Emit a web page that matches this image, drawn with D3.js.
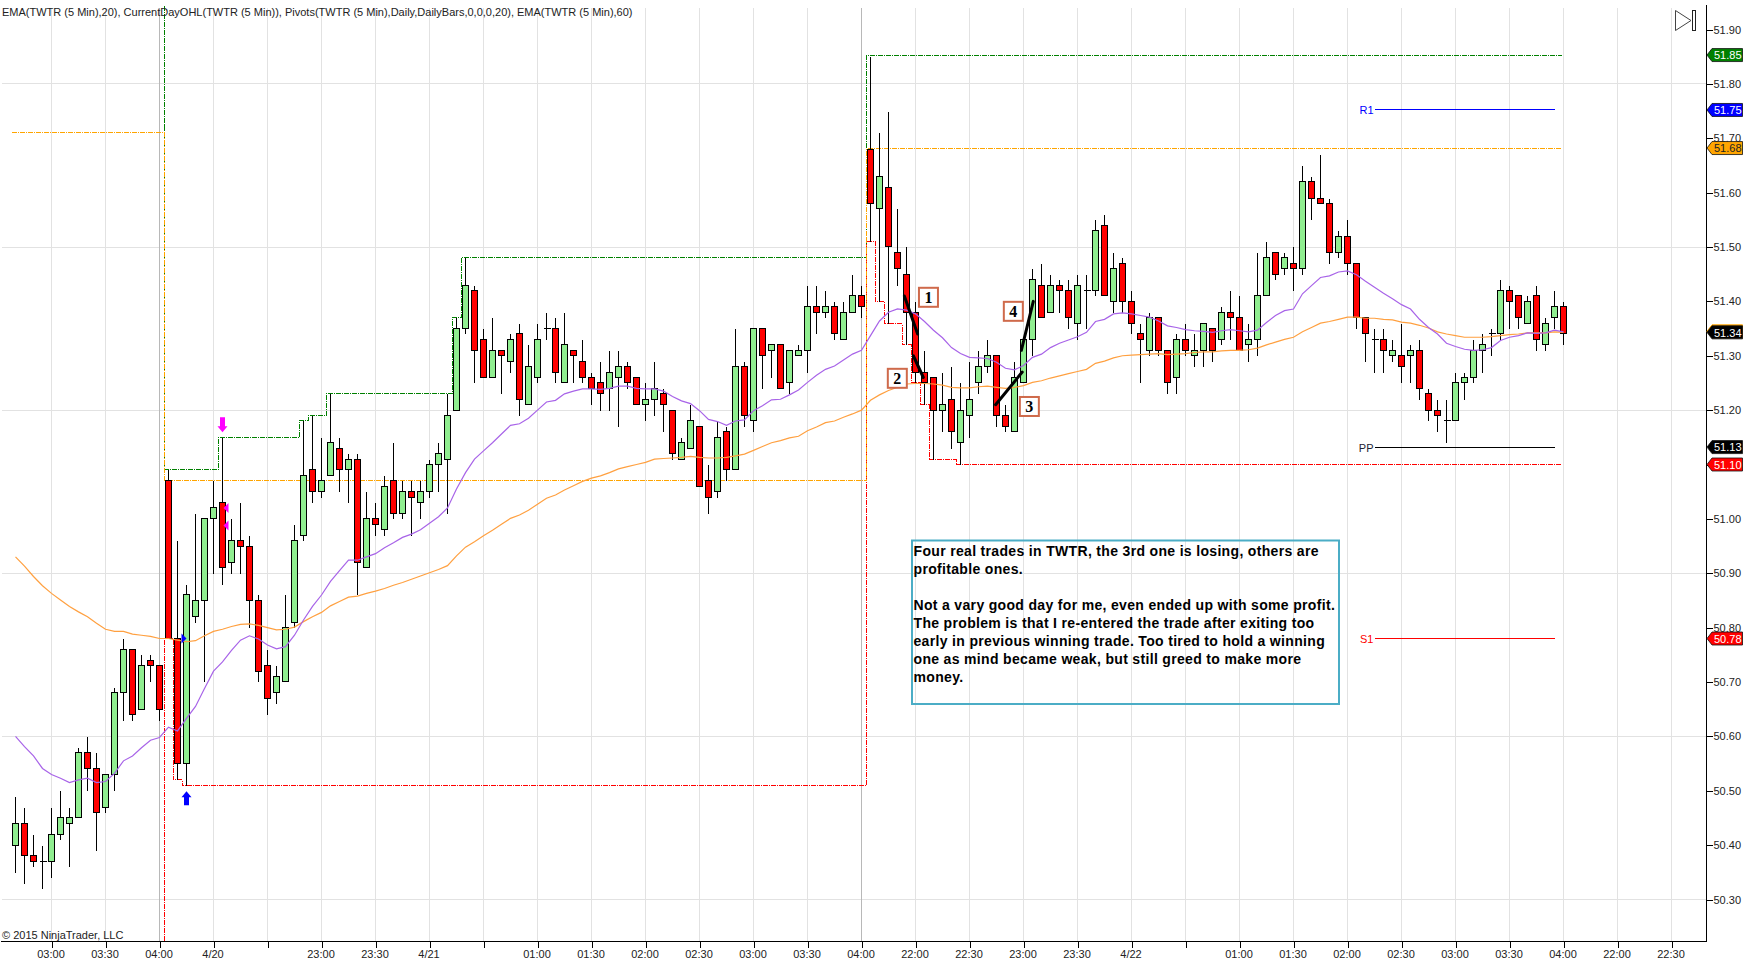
<!DOCTYPE html>
<html>
<head>
<meta charset="utf-8">
<script src="https://cdn.jsdelivr.net/npm/d3@7/dist/d3.min.js"></script>
<style>
  html, body { margin: 0; padding: 0; background: #fff; }
  svg { display: block; }
  text { font-family: "Liberation Sans", Arial, sans-serif; }
</style>
</head>
<body>
<svg id="chart" width="1752" height="968"></svg>
<script>
// one row per bar, left to right: open, high, low, close
const opens = [
  50.40,50.44,50.38,50.37,50.37,50.42,50.44,50.45,50.57,50.54,50.47,50.53,50.68,50.76,50.65,50.74,50.73,51.07,50.78,50.55,
  50.82,50.85,51.00,51.03,50.92,50.96,50.95,50.85,50.73,50.68,50.70,50.81,50.97,51.09,51.05,51.08,51.13,51.09,51.11,50.91,
  51.00,50.98,51.07,51.01,51.05,51.03,51.05,51.10,51.11,51.20,51.35,51.42,51.33,51.26,51.31,51.29,51.34,51.21,51.26,51.35,
  51.35,51.25,51.31,51.29,51.26,51.25,51.24,51.26,51.28,51.26,51.21,51.22,51.23,51.20,51.11,51.13,51.17,51.07,51.05,51.16,
  51.09,51.28,51.18,51.35,51.31,51.32,51.25,51.30,51.31,51.39,51.38,51.39,51.33,51.38,51.41,51.68,51.57,51.61,51.49,51.45,
  51.38,51.27,51.26,51.20,51.22,51.14,51.19,51.25,51.28,51.30,51.19,51.16,51.25,51.33,51.43,51.38,51.43,51.42,51.36,51.42,
  51.42,51.54,51.40,51.47,51.40,51.34,51.31,51.37,51.31,51.26,51.33,51.30,51.31,51.35,51.33,51.38,51.37,51.32,51.33,51.41,
  51.49,51.46,51.47,51.46,51.62,51.59,51.58,51.49,51.52,51.47,51.37,51.33,51.33,51.30,51.30,51.30,51.31,51.23,51.20,51.18,
  51.18,51.25,51.26,51.31,51.34,51.34,51.42,51.41,51.36,51.41,51.32,51.37,51.39
];
const highs = [
  50.49,50.47,50.42,50.40,50.47,50.50,50.47,50.58,50.60,50.57,50.53,50.69,50.78,50.76,50.75,50.75,50.73,51.09,50.96,50.88,
  51.01,51.00,51.07,51.15,51.00,51.03,50.97,50.86,50.76,50.73,50.86,50.99,51.18,51.19,51.15,51.23,51.15,51.12,51.12,51.05,
  51.03,51.08,51.14,51.07,51.07,51.07,51.11,51.14,51.23,51.37,51.48,51.43,51.35,51.37,51.31,51.34,51.36,51.32,51.36,51.38,
  51.37,51.38,51.31,51.33,51.27,51.29,51.31,51.31,51.29,51.26,51.25,51.29,51.24,51.20,51.15,51.21,51.17,51.10,51.18,51.17,
  51.35,51.29,51.35,51.35,51.32,51.32,51.31,51.32,51.43,51.43,51.42,51.40,51.40,51.45,51.43,51.85,51.71,51.75,51.57,51.50,
  51.40,51.31,51.26,51.27,51.28,51.25,51.29,51.31,51.33,51.30,51.21,51.29,51.33,51.46,51.47,51.45,51.44,51.44,51.45,51.45,
  51.55,51.56,51.49,51.48,51.42,51.36,51.38,51.37,51.31,51.34,51.36,51.34,51.36,51.35,51.39,51.42,51.41,51.36,51.49,51.51,
  51.49,51.49,51.50,51.65,51.63,51.67,51.59,51.53,51.55,51.47,51.37,51.35,51.35,51.33,51.36,51.32,51.33,51.24,51.22,51.22,
  51.27,51.27,51.33,51.34,51.35,51.44,51.43,51.41,51.41,51.43,51.37,51.42,51.40
];
const lows = [
  50.35,50.33,50.36,50.32,50.34,50.41,50.36,50.45,50.50,50.39,50.46,50.50,50.63,50.63,50.65,50.70,50.63,50.78,50.52,50.51,
  50.81,50.70,50.90,50.88,50.90,50.90,50.80,50.70,50.64,50.66,50.70,50.80,50.96,51.03,51.04,51.08,51.05,51.03,50.86,50.91,
  50.97,50.97,51.00,51.00,50.97,51.00,51.04,51.05,51.01,51.20,51.34,51.25,51.26,51.26,51.23,51.27,51.19,51.21,51.25,51.33,
  51.25,51.25,51.25,51.25,51.21,51.20,51.20,51.17,51.24,51.21,51.18,51.19,51.16,51.11,51.11,51.13,51.06,51.01,51.04,51.07,
  51.09,51.17,51.16,51.24,51.26,51.24,51.23,51.30,51.27,51.34,51.37,51.33,51.33,51.38,51.37,51.51,51.40,51.36,51.43,51.32,
  51.25,51.21,51.11,51.16,51.13,51.10,51.15,51.23,51.27,51.17,51.16,51.16,51.25,51.30,51.37,51.38,51.38,51.35,51.33,51.35,
  51.41,51.41,51.38,51.38,51.34,51.25,51.30,51.30,51.23,51.23,51.30,51.28,51.28,51.29,51.32,51.33,51.31,51.29,51.30,51.41,
  51.44,51.45,51.42,51.45,51.55,51.58,51.47,51.48,51.45,51.35,51.29,51.27,51.27,51.29,51.25,51.25,51.22,51.18,51.16,51.14,
  51.18,51.22,51.25,51.27,51.30,51.33,51.35,51.35,51.36,51.31,51.31,51.35,51.32
];
const closes = [
  50.44,50.38,50.37,50.37,50.42,50.45,50.45,50.57,50.54,50.46,50.53,50.68,50.76,50.64,50.73,50.73,50.65,50.78,50.55,50.86,
  50.85,51.00,51.02,50.91,50.96,50.95,50.85,50.72,50.67,50.71,50.80,50.96,51.08,51.05,51.07,51.14,51.09,51.11,50.92,51.00,
  50.99,51.06,51.01,51.05,51.04,51.05,51.10,51.12,51.19,51.35,51.43,51.31,51.26,51.31,51.30,51.33,51.22,51.28,51.33,51.35,
  51.27,51.32,51.30,51.26,51.24,51.23,51.27,51.28,51.25,51.21,51.22,51.24,51.21,51.12,51.14,51.18,51.06,51.04,51.15,51.09,
  51.28,51.19,51.35,51.30,51.32,51.24,51.31,51.31,51.39,51.38,51.39,51.34,51.38,51.41,51.39,51.58,51.63,51.50,51.46,51.38,
  51.27,51.25,51.20,51.21,51.16,51.20,51.22,51.28,51.30,51.19,51.17,51.26,51.33,51.44,51.37,51.43,51.42,51.37,51.43,51.42,
  51.53,51.41,51.46,51.40,51.36,51.33,51.37,51.31,51.25,51.33,51.31,51.31,51.36,51.31,51.38,51.37,51.31,51.33,51.41,51.48,
  51.45,51.48,51.46,51.62,51.59,51.58,51.49,51.52,51.47,51.37,51.34,51.33,51.31,51.31,51.28,51.31,51.24,51.20,51.19,51.18,
  51.25,51.26,51.31,51.32,51.34,51.42,51.40,51.37,51.40,51.33,51.36,51.39,51.34
];

const ema20 = [
  50.600,50.581,50.564,50.541,50.530,50.523,50.515,50.520,50.523,50.515,50.517,50.532,50.555,50.564,50.579,50.593,50.598,50.617,50.610,50.633,
  50.655,50.688,50.720,50.737,50.758,50.777,50.785,50.779,50.768,50.761,50.765,50.786,50.814,50.839,50.860,50.885,50.905,50.924,50.924,50.930,
  50.936,50.947,50.956,50.966,50.972,50.980,50.992,51.004,51.020,51.055,51.085,51.110,51.125,51.140,51.156,51.172,51.175,51.185,51.200,51.215,
  51.218,51.230,51.235,51.239,51.239,51.238,51.240,51.244,51.244,51.240,51.239,51.239,51.235,51.225,51.217,51.212,51.199,51.183,51.179,51.172,
  51.180,51.182,51.199,51.208,51.219,51.220,51.228,51.237,51.251,51.264,51.275,51.281,51.292,51.303,51.310,51.337,51.364,51.380,51.386,51.384,
  51.377,51.363,51.347,51.333,51.315,51.304,51.297,51.296,51.295,51.288,51.277,51.274,51.282,51.297,51.303,51.315,51.323,51.329,51.335,51.343,
  51.363,51.367,51.377,51.379,51.377,51.374,51.371,51.364,51.355,51.352,51.348,51.346,51.345,51.343,51.346,51.348,51.346,51.344,51.347,51.361,
  51.374,51.383,51.386,51.414,51.429,51.444,51.447,51.454,51.456,51.449,51.437,51.426,51.415,51.405,51.394,51.386,51.367,51.352,51.340,51.323,
  51.317,51.312,51.310,51.311,51.315,51.328,51.334,51.337,51.342,51.341,51.342,51.347,51.344
];
const ema60 = [
  50.930,50.913,50.894,50.877,50.863,50.851,50.839,50.829,50.820,50.808,50.797,50.793,50.793,50.788,50.786,50.784,50.780,50.780,50.777,50.774,
  50.776,50.785,50.793,50.797,50.802,50.806,50.807,50.804,50.800,50.796,50.797,50.801,50.811,50.820,50.828,50.840,50.848,50.856,50.858,50.863,
  50.867,50.872,50.878,50.883,50.889,50.895,50.901,50.907,50.914,50.932,50.948,50.958,50.969,50.979,50.990,51.001,51.007,51.016,51.027,51.038,
  51.044,51.053,51.061,51.069,51.075,51.079,51.085,51.092,51.096,51.100,51.104,51.110,51.111,51.112,51.113,51.115,51.113,51.112,51.112,51.113,
  51.116,51.119,51.126,51.133,51.140,51.144,51.149,51.152,51.162,51.169,51.177,51.180,51.187,51.193,51.200,51.218,51.228,51.236,51.242,51.248,
  51.249,51.249,51.248,51.246,51.242,51.241,51.241,51.243,51.244,51.242,51.240,51.242,51.245,51.251,51.254,51.259,51.263,51.267,51.271,51.275,
  51.286,51.290,51.296,51.300,51.301,51.302,51.303,51.304,51.302,51.303,51.304,51.306,51.307,51.307,51.309,51.310,51.310,51.311,51.314,51.320,
  51.325,51.330,51.334,51.344,51.352,51.360,51.363,51.367,51.371,51.371,51.369,51.369,51.367,51.366,51.362,51.360,51.356,51.351,51.344,51.340,
  51.337,51.334,51.334,51.334,51.335,51.337,51.339,51.340,51.342,51.342,51.342,51.344,51.343
];

// x axis: a tick every six bars, blank where the session skips a label
const tickBars = d3.range(4, 185, 6);
const tickLabels = [
  "03:00","03:30","04:00","4/20","","23:00","23:30","4/21","","01:00","01:30","02:00","02:30","03:00","03:30","04:00",
  "22:00","22:30","23:00","23:30","4/22","","01:00","01:30","02:00","02:30","03:00","03:30","04:00","22:00","22:30"
];
const priceTicks = d3.range(0, 17).map(k => +(50.3 + k * 0.1).toFixed(2));
const gridPrices = [50.3, 50.6, 50.9, 51.2, 51.5, 51.8];
const sessionBars = [16, 94];

// CurrentDayOHL steps as [bar, price]
const openSteps = [[-0.4, 51.71], [16.5, 51.71], [16.5, 51.07], [94.6, 51.07], [94.6, 51.682], [171.8, 51.682]];
const highSteps = [[16.5, 51.945], [16.5, 51.09], [22.5, 51.09], [22.5, 51.15], [31.5, 51.15], [31.5, 51.18], [32.5, 51.18], [32.5, 51.19], [34.5, 51.19], [34.5, 51.23], [48.6, 51.23], [48.6, 51.37], [49.6, 51.37], [49.6, 51.48], [94.6, 51.48], [94.6, 51.853], [171.8, 51.853]];
const lowSteps = [[16.5, 50.225], [16.5, 50.78], [17.5, 50.78], [17.5, 50.52], [18.5, 50.52], [18.5, 50.51], [94.6, 50.51], [94.6, 51.51], [95.6, 51.51], [95.6, 51.40], [96.6, 51.40], [96.6, 51.36], [98.5, 51.36], [98.5, 51.32], [99.5, 51.32], [99.5, 51.25], [100.5, 51.25], [100.5, 51.21], [101.5, 51.21], [101.5, 51.11], [104.5, 51.11], [104.5, 51.10], [171.8, 51.10]];

const pivotNames = ["R1", "PP", "S1"];
const pivotPrices = [51.752, 51.132, 50.78];
const pivotColors = ["#0000ff", "#000000", "#ff0000"];
const pivotFrom = 151, pivotTo = 171;

const tagPrices = [51.853, 51.752, 51.682, 51.132, 51.10, 50.78, 51.343];
const tagLabels = ["51.85", "51.75", "51.68", "51.13", "51.10", "50.78", "51.34"];
const tagFills = ["#008000", "#0000ff", "#ffa500", "#000000", "#ff0000", "#ff0000", "#000000"];
const tagInks = ["#fff", "#fff", "#222", "#fff", "#fff", "#fff", "#fff"];

// trade lines [barA, priceA, barB, priceB]
const tradeLines = [
  [98.76, 51.41, 100.24, 51.34],
  [99.76, 51.30, 100.87, 51.26],
  [108.9, 51.21, 111.86, 51.27],
  [111.76, 51.31, 113.09, 51.40]
];
const tradeNumbers = ["1", "2", "3", "4"];
const numberBars = [101.44, 97.98, 112.65, 110.87];
const numberPrices = [51.4075, 51.2585, 51.2067, 51.3817];

const noteLines = [
  "Four real trades in TWTR, the 3rd one is losing, others are",
  "profitable ones.",
  "",
  "Not a vary good day for me, even ended up with some profit.",
  "The problem is that I re-entered the trade after exiting too",
  "early in previous winning trade. Too tired to hold a winning",
  "one as mind became weak, but still greed to make more",
  "money."
];

const svg = d3.select("#chart");
const axisX = 1706.5, axisY = 941.5;

const x = d3.scaleLinear().domain([0, 184]).range([15.5, 1671.5]);
const y = d3.scaleLinear().domain([50.3, 51.9]).range([899.5, 29.5]);
const snap = v => Math.round(y(v) - 0.5) + 0.5;

// grid
const grid = svg.append("g").attr("stroke", "#e2e2e2").attr("stroke-width", 1).attr("shape-rendering", "crispEdges");
grid.selectAll("line.v").data(tickBars).join("line").attr("class", "v")
  .attr("x1", d => x(d)).attr("x2", d => x(d)).attr("y1", 8).attr("y2", axisY);
grid.selectAll("line.h").data(gridPrices).join("line").attr("class", "h")
  .attr("x1", 2).attr("x2", axisX).attr("y1", d => y(d)).attr("y2", d => y(d));

svg.append("g").selectAll("line").data(sessionBars).join("line")
  .attr("x1", d => x(d)).attr("x2", d => x(d)).attr("y1", 8).attr("y2", axisY)
  .attr("stroke", "#b8b8b8").attr("shape-rendering", "crispEdges");

// day OHL steps go under the candles
const stepLine = d3.line().x(d => x(d[0])).y(d => snap(d[1]));
const steps = svg.append("g").attr("fill", "none").attr("stroke-width", 1).attr("stroke-dasharray", "5,1,1,1").attr("shape-rendering", "crispEdges");
steps.append("path").attr("d", stepLine(highSteps)).attr("stroke", "#008000");
steps.append("path").attr("d", stepLine(lowSteps)).attr("stroke", "#ff0000");
steps.append("path").attr("d", stepLine(openSteps)).attr("stroke", "#ffa500");

// candles
const bars = d3.range(opens.length);
const candles = svg.append("g").attr("shape-rendering", "crispEdges");
candles.selectAll("line").data(bars).join("line")
  .attr("x1", i => x(i)).attr("x2", i => x(i))
  .attr("y1", i => snap(highs[i])).attr("y2", i => snap(lows[i]))
  .attr("stroke", "#000");
candles.selectAll("rect").data(bars.filter(i => opens[i] !== closes[i])).join("rect")
  .attr("x", i => x(i) - 3).attr("width", 6)
  .attr("y", i => snap(Math.max(opens[i], closes[i])))
  .attr("height", i => snap(Math.min(opens[i], closes[i])) - snap(Math.max(opens[i], closes[i])))
  .attr("fill", i => closes[i] > opens[i] ? "#90ee90" : "#ff0000")
  .attr("stroke", "#000");
candles.selectAll("line.doji").data(bars.filter(i => opens[i] === closes[i])).join("line")
  .attr("class", "doji")
  .attr("x1", i => x(i) - 3).attr("x2", i => x(i) + 4)
  .attr("y1", i => snap(opens[i])).attr("y2", i => snap(opens[i]))
  .attr("stroke", "#000");

// EMAs
const emaLine = d3.line().x((d, i) => x(i)).y(d => y(d));
svg.append("path").attr("d", emaLine(ema60)).attr("fill", "none").attr("stroke", "#ffa040").attr("stroke-width", 1.2);
svg.append("path").attr("d", emaLine(ema20)).attr("fill", "none").attr("stroke", "#a864e8").attr("stroke-width", 1.2);

// pivots
const pivots = svg.append("g");
pivots.selectAll("line").data(pivotPrices).join("line")
  .attr("x1", x(pivotFrom)).attr("x2", x(pivotTo))
  .attr("y1", d => snap(d)).attr("y2", d => snap(d))
  .attr("stroke", (d, i) => pivotColors[i]).attr("shape-rendering", "crispEdges");
pivots.selectAll("text").data(pivotNames).join("text")
  .attr("x", x(pivotFrom) - 1).attr("y", (d, i) => snap(pivotPrices[i]) + 4)
  .attr("text-anchor", "end").attr("font-size", 11)
  .attr("fill", (d, i) => pivotColors[i] === "#000000" ? "#223" : pivotColors[i])
  .text(d => d);

// entry and exit markers
const upArrow = "M0,0 L5,6 L2.5,6 L2.5,14 L-2.5,14 L-2.5,6 L-5,6 Z";
const downArrow = "M0,0 L5,-6 L2.5,-6 L2.5,-15 L-2.5,-15 L-2.5,-6 L-5,-6 Z";
svg.append("path").attr("d", upArrow).attr("fill", "#0000ff")
  .attr("transform", `translate(${x(19)},${y(50.51) + 6})`);
svg.append("path").attr("d", downArrow).attr("fill", "#ff00ff")
  .attr("transform", `translate(${x(23)},${y(51.15) - 5})`);
svg.append("path").attr("d", "M0,-5 L5,0 L0,5 Z").attr("fill", "#0000ff")
  .attr("transform", `translate(${x(19) - 5},${y(50.78)})`);
svg.append("g").selectAll("path").data([51.02, 50.988]).join("path")
  .attr("d", "M0,0 L5,-5 L5,5 Z").attr("fill", "#ff00ff")
  .attr("transform", d => `translate(${x(23) + 1},${y(d)})`);

// trade lines and numbered boxes
svg.append("g").selectAll("line").data(tradeLines).join("line")
  .attr("x1", d => x(d[0])).attr("y1", d => y(d[1]))
  .attr("x2", d => x(d[2])).attr("y2", d => y(d[3]))
  .attr("stroke", "#000").attr("stroke-width", 3).attr("stroke-linecap", "round");
const numbers = svg.append("g");
numbers.selectAll("rect").data(tradeNumbers).join("rect")
  .attr("x", (d, i) => x(numberBars[i]) - 9.5).attr("y", (d, i) => y(numberPrices[i]) - 9.5)
  .attr("width", 19).attr("height", 19)
  .attr("fill", "#fff").attr("stroke", "#cf6a4b").attr("stroke-width", 2);
numbers.selectAll("text").data(tradeNumbers).join("text")
  .attr("x", (d, i) => x(numberBars[i])).attr("y", (d, i) => y(numberPrices[i]) + 5.5)
  .attr("text-anchor", "middle").attr("font-size", 16).attr("font-weight", "bold")
  .style("font-family", '"Liberation Serif", serif')
  .text(d => d);

// axes
const rightAxis = d3.axisRight(y).tickValues(priceTicks).tickFormat(d3.format(".2f")).tickSize(6).tickPadding(1);
const bottomAxis = d3.axisBottom(x).tickValues(tickBars).tickFormat((d, i) => tickLabels[i]).tickSize(6).tickPadding(3);

const yAxis = svg.append("g").attr("transform", `translate(${axisX},0)`).call(rightAxis);
yAxis.select(".domain").remove();
yAxis.selectAll("text").attr("font-size", 11).attr("fill", "#222").style("font-family", '"Liberation Sans", Arial, sans-serif');
yAxis.selectAll("line").attr("shape-rendering", "crispEdges");

const xAxis = svg.append("g").attr("transform", `translate(0,${axisY})`).call(bottomAxis);
xAxis.select(".domain").remove();
xAxis.selectAll("text").attr("font-size", 11).attr("fill", "#222").attr("dx", -1).style("font-family", '"Liberation Sans", Arial, sans-serif');
xAxis.selectAll("line").attr("shape-rendering", "crispEdges");

svg.append("line").attr("x1", axisX).attr("x2", axisX).attr("y1", 5).attr("y2", axisY)
  .attr("stroke", "#000").attr("shape-rendering", "crispEdges");
svg.append("line").attr("x1", 1).attr("x2", axisX).attr("y1", axisY).attr("y2", axisY)
  .attr("stroke", "#000").attr("stroke-width", 1).attr("shape-rendering", "crispEdges");

// price tags on the axis, the orange one peeks out behind 51.34
const tagShape = "M0,0 L5,-6.5 L35.5,-6.5 L35.5,6.5 L5,6.5 Z";
svg.append("path").attr("d", tagShape).attr("fill", "#ffa500").attr("stroke", "#ffa500")
  .attr("transform", `translate(${axisX + 0.5},${y(51.343) - 1})`);
const tags = svg.append("g").selectAll("g").data(tagPrices).join("g")
  .attr("transform", d => `translate(${axisX + 0.5},${y(d)})`);
tags.append("path").attr("d", tagShape)
  .attr("fill", (d, i) => tagFills[i]).attr("stroke", "#111").attr("stroke-width", 0.8);
tags.append("text").attr("x", 7).attr("y", 4.2).attr("font-size", 11)
  .attr("fill", (d, i) => tagInks[i]).text((d, i) => tagLabels[i]);

// note box
const note = svg.append("g");
note.append("rect").attr("x", 912).attr("y", 540.5).attr("width", 427).attr("height", 163.5)
  .attr("fill", "#fff").attr("fill-opacity", 0).attr("stroke", "#4badc6").attr("stroke-width", 2);
note.selectAll("text").data(noteLines).join("text")
  .attr("x", 913.5).attr("y", (d, i) => 555.5 + i * 18)
  .attr("font-size", 14).attr("font-weight", "bold").attr("letter-spacing", 0.33).attr("fill", "#000")
  .text(d => d);

// header, copyright, end-of-chart icon
svg.append("text").attr("x", 2).attr("y", 15.5).attr("font-size", 11).attr("fill", "#222")
  .text("EMA(TWTR (5 Min),20), CurrentDayOHL(TWTR (5 Min)), Pivots(TWTR (5 Min),Daily,DailyBars,0,0,0,20), EMA(TWTR (5 Min),60)");
svg.append("text").attr("x", 2).attr("y", 939).attr("font-size", 11).attr("fill", "#222")
  .text("\u00a9 2015 NinjaTrader, LLC");
svg.append("path").attr("d", "M1675.5,10.5 L1691,20.5 L1675.5,30.5 Z").attr("fill", "#fff").attr("stroke", "#444");
svg.append("rect").attr("x", 1692.5).attr("y", 10.5).attr("width", 3).attr("height", 20).attr("fill", "#fff").attr("stroke", "#222");
</script>
</body>
</html>
